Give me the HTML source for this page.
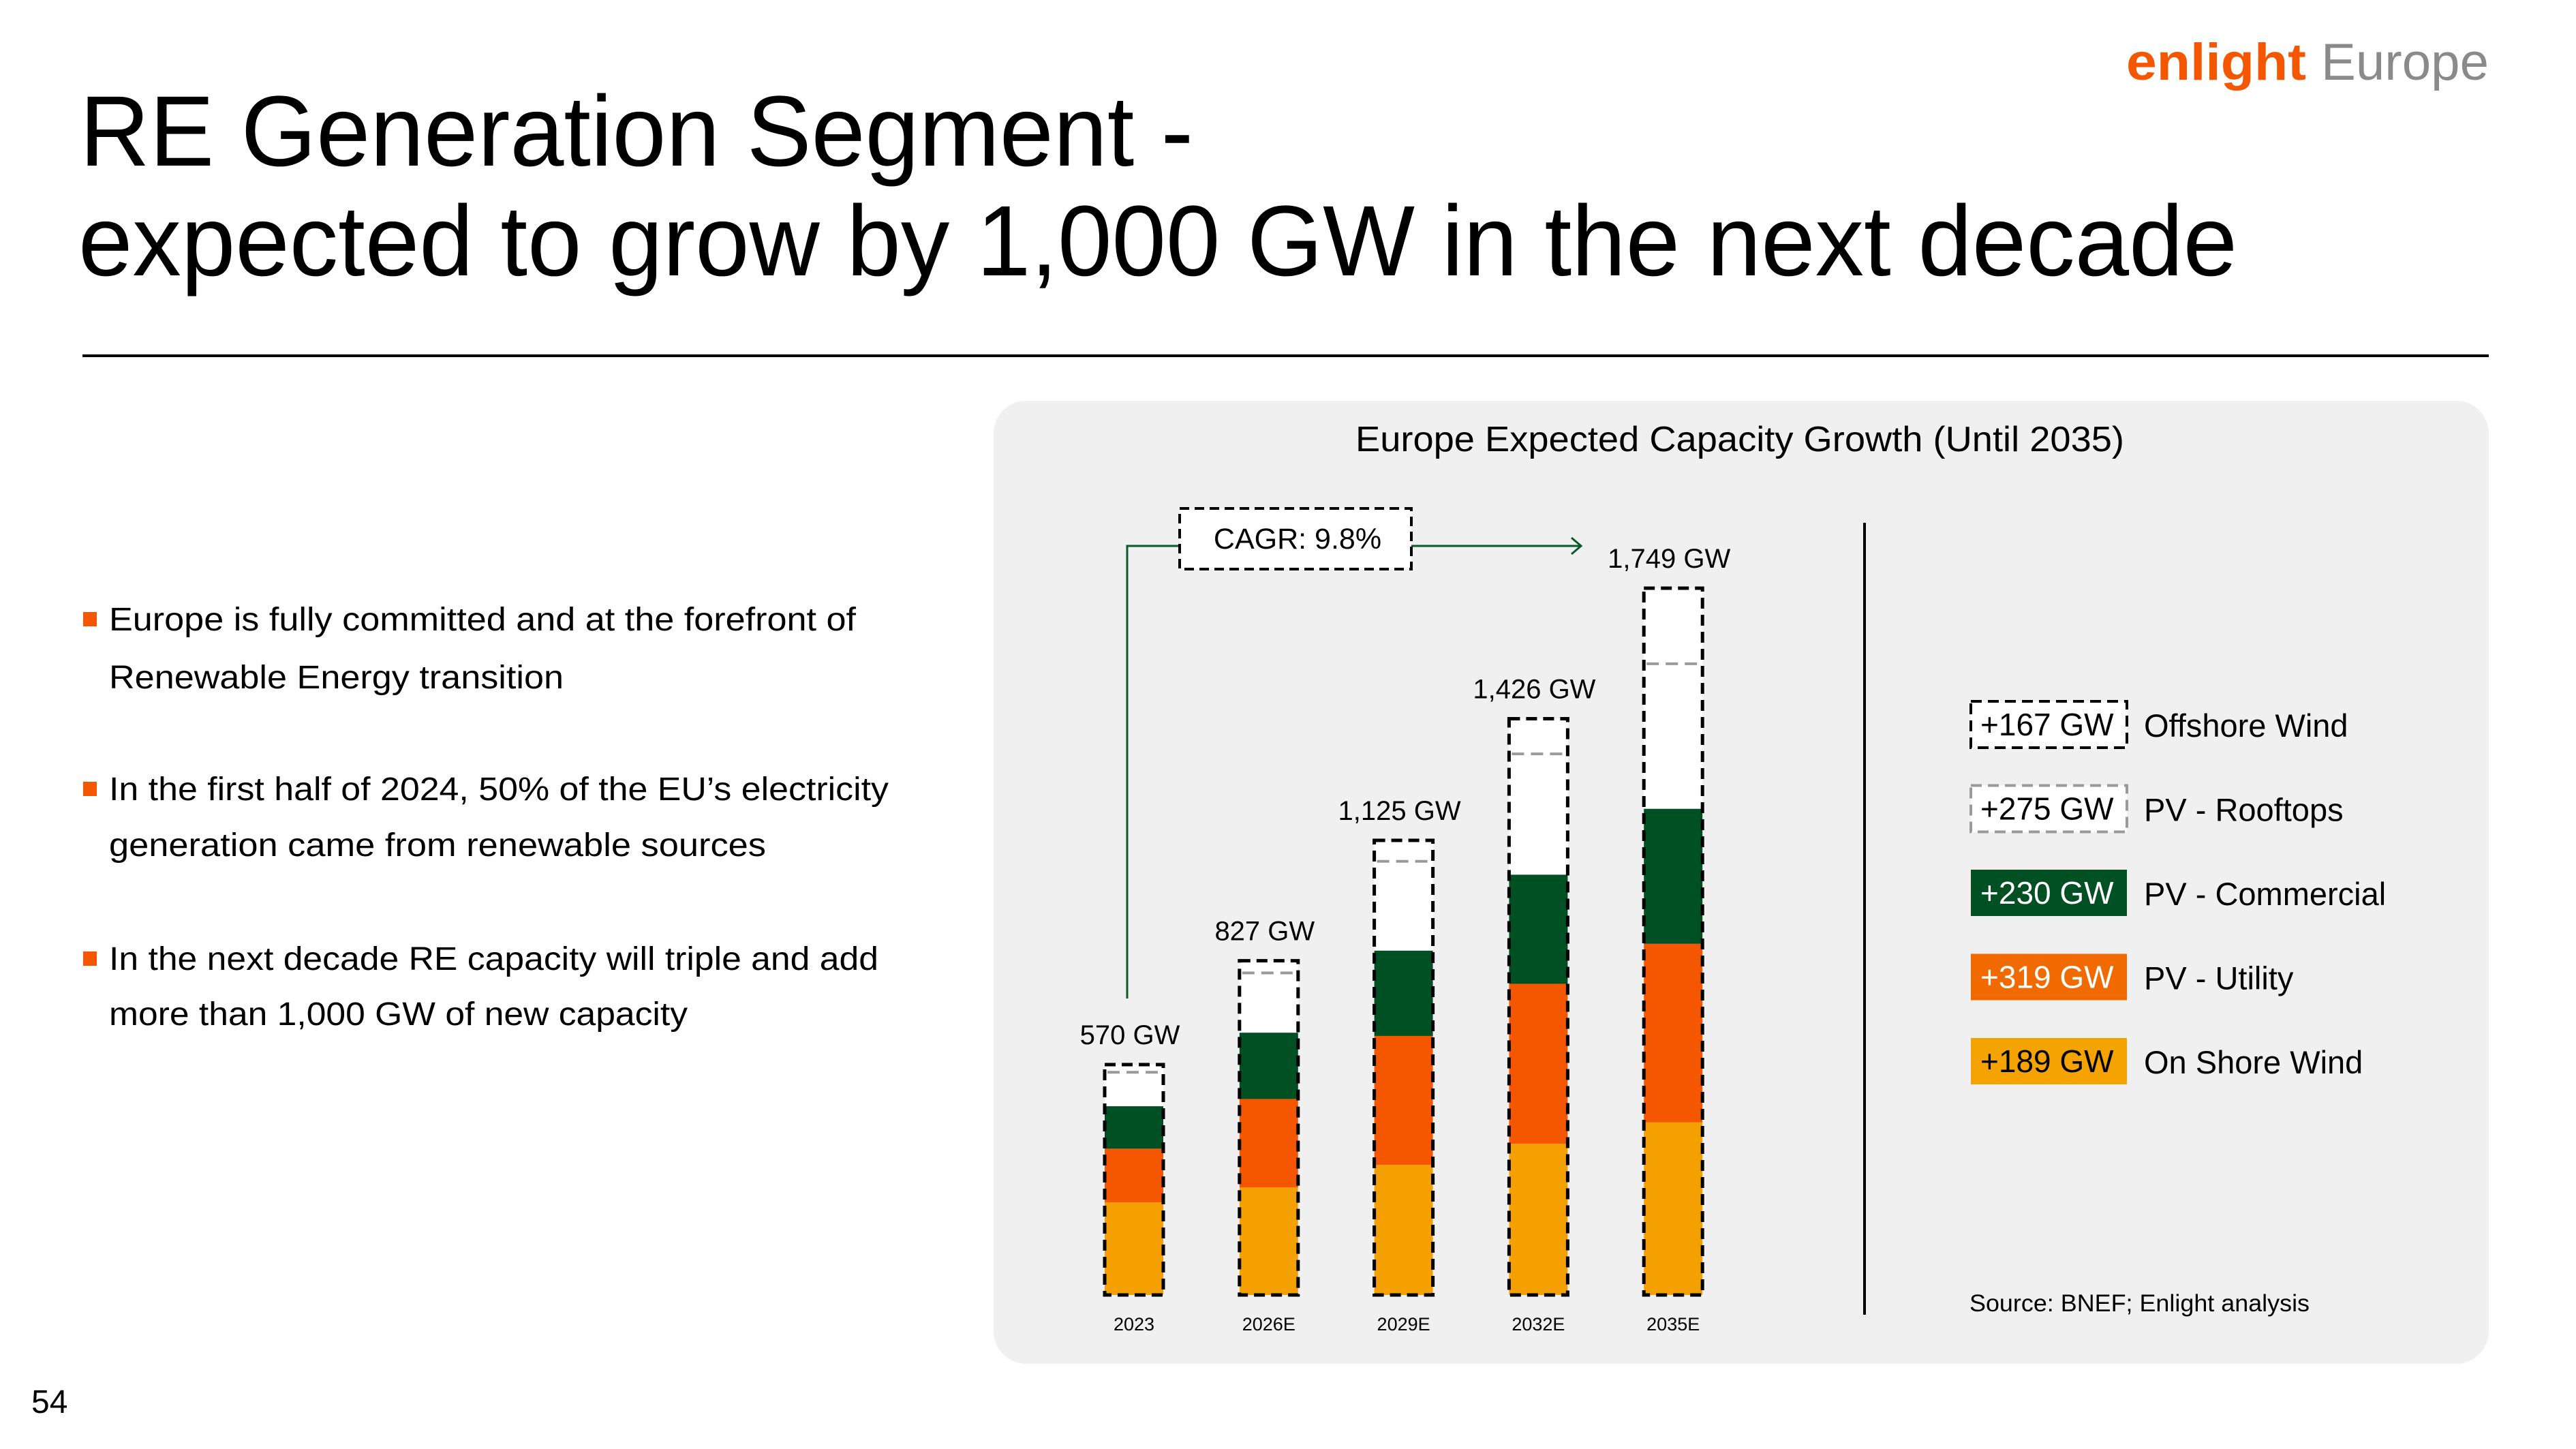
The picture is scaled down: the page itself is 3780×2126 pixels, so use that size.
<!DOCTYPE html>
<html><head><meta charset="utf-8"><style>
html,body{margin:0;padding:0;background:#fff;}
svg{display:block;font-family:"Liberation Sans",sans-serif;}
</style></head><body>
<svg id="slide" width="3780" height="2126" viewBox="0 0 3780 2126" xmlns="http://www.w3.org/2000/svg">
<rect x="0" y="0" width="3780" height="2126" fill="#ffffff"/>
<g>
<text x="3120" y="117" font-size="76" font-weight="bold" fill="#f55600" textLength="264" lengthAdjust="spacingAndGlyphs">enlight</text>
<text x="3406" y="117" font-size="76" fill="#8a8a8a" textLength="246" lengthAdjust="spacingAndGlyphs">Europe</text>
</g>
<text x="117" y="243" font-size="147" fill="#000" textLength="1634" lengthAdjust="spacingAndGlyphs">RE Generation Segment -</text>
<text x="115" y="404" font-size="147" fill="#000" textLength="3168" lengthAdjust="spacingAndGlyphs">expected to grow by 1,000 GW in the next decade</text>
<rect x="121" y="520" width="3531" height="4" fill="#000"/>

<g font-size="48" fill="#000">
<rect x="122" y="898" width="20" height="21" fill="#f55600"/>
<text x="160" y="925" textLength="1096" lengthAdjust="spacingAndGlyphs">Europe is fully committed and at the forefront of</text>
<text x="160" y="1010" textLength="667" lengthAdjust="spacingAndGlyphs">Renewable Energy transition</text>
<rect x="122" y="1147" width="20" height="21" fill="#f55600"/>
<text x="160" y="1174" textLength="1144" lengthAdjust="spacingAndGlyphs">In the first half of 2024, 50% of the EU’s electricity</text>
<text x="160" y="1256" textLength="964" lengthAdjust="spacingAndGlyphs">generation came from renewable sources</text>
<rect x="122" y="1396" width="20" height="21" fill="#f55600"/>
<text x="160" y="1423" textLength="1129" lengthAdjust="spacingAndGlyphs">In the next decade RE capacity will triple and add</text>
<text x="160" y="1504" textLength="849" lengthAdjust="spacingAndGlyphs">more than 1,000 GW of new capacity</text>
</g>
<text x="46" y="2073" font-size="48" fill="#000">54</text>

<rect x="1458" y="588" width="2194" height="1413" rx="48" fill="#f0f0f0"/>
<text x="2553" y="662" font-size="52" text-anchor="middle" fill="#000" textLength="1128" lengthAdjust="spacingAndGlyphs">Europe Expected Capacity Growth (Until 2035)</text>
<rect x="2734" y="767" width="4" height="1162" fill="#000"/>
<g id="bars"></g>
<g id="legend"></g>
<text x="2890" y="1924" font-size="35" fill="#000" textLength="499" lengthAdjust="spacingAndGlyphs">Source: BNEF; Enlight analysis</text>
</svg>
<script>
const categories = ["2023","2026E","2029E","2032E","2035E"];
const onshoreWind = [229,266,322,374,427];
const pvUtility = [133,219,319,396,442];
const pvCommercial = [105,164,211,270,334];
const pvRooftops = [84,148,221,299,359];
const offshoreWind = [19,30,52,87,187];
const totalLabels = ["570 GW","827 GW","1,125 GW","1,426 GW","1,749 GW"];
const cagrLabel = "CAGR: 9.8%";
const legendNames = ["Offshore Wind","PV - Rooftops","PV - Commercial","PV - Utility","On Shore Wind"];
const legendDeltas = ["+167 GW","+275 GW","+230 GW","+319 GW","+189 GW"];

const NS="http://www.w3.org/2000/svg";
const baseY=1900, pxPerGW=1037/1749, x0=1664, step=197.8, bw=86;
const yScale=v=>baseY-v*pxPerGW;
const xCenter=i=>x0+i*step;
function mk(tag,attrs,parent){const e=document.createElementNS(NS,tag);for(const k in attrs)e.setAttribute(k,attrs[k]);parent.appendChild(e);return e;}
const g=document.getElementById('bars');
const colors=["#f4a000","#f55600","#005023"];
categories.forEach((c,i)=>{
  const xl=xCenter(i)-bw/2;
  const series=[onshoreWind[i],pvUtility[i],pvCommercial[i]];
  const total=onshoreWind[i]+pvUtility[i]+pvCommercial[i]+pvRooftops[i]+offshoreWind[i];
  const top=yScale(total);
  const bg=mk('rect',{x:xl,y:top,width:bw,height:baseY-top,fill:'#ffffff'},g);
  
  
  let cum=0;
  const names=['onshore-wind','pv-utility','pv-commercial'];
  series.forEach((v,k)=>{
    const y1=yScale(cum+v), y0=yScale(cum);
    const r=mk('rect',{x:xl,y:y1,width:bw,height:y0-y1,fill:colors[k]},g);
    
    
    cum+=v;
  });
  const ry=yScale(cum+pvRooftops[i]);
  const ln=mk('line',{x1:xl+4,x2:xl+bw-4,y1:ry,y2:ry,stroke:'#9a9a9a','stroke-width':4,'stroke-dasharray':'18 10'},g);
  
  
  const ol=mk('rect',{x:xl,y:top,width:bw,height:baseY-top,fill:'none',stroke:'#000','stroke-width':5,'stroke-dasharray':'16 9'},g);
  
  
  const lt=mk('text',{x:xCenter(i)-6,y:top-30,'font-size':40,'text-anchor':'middle',fill:'#000'},g);
  lt.textContent=totalLabels[i];
  
  
  const yt=mk('text',{x:xCenter(i),y:1952,'font-size':27,'text-anchor':'middle',fill:'#000'},g);
  yt.textContent=c;
  
  
});
// CAGR annotation
const firstTotal=onshoreWind[0]+pvUtility[0]+pvCommercial[0]+pvRooftops[0]+offshoreWind[0];
const ay=801, vx=xCenter(0)-10;
const p=mk('polyline',{points:`${vx},${yScale(firstTotal)-97} ${vx},${ay} 1731,${ay}`,fill:'none',stroke:'#0a5a2a','stroke-width':3},g);


const p2=mk('line',{x1:2071,y1:ay,x2:2320,y2:ay,stroke:'#0a5a2a','stroke-width':3},g);


const ah=mk('polyline',{points:`2306,${ay-12} 2320,${ay} 2306,${ay+12}`,fill:'none',stroke:'#0a5a2a','stroke-width':3},g);


const cb=mk('rect',{x:1731,y:746,width:340,height:89,fill:'#fff',stroke:'#000','stroke-width':4,'stroke-dasharray':'14 8'},g);


const ct=mk('text',{x:1904,y:805,'font-size':43,'text-anchor':'middle',fill:'#000'},g);
ct.textContent=cagrLabel;


// legend
const lg=document.getElementById('legend');
const lfill=['#ffffff','#ffffff','#005023','#f06a00','#f4a300'];
const lstroke=['#000','#9a9a9a','none','none','none'];
const ltext=['#000','#000','#fff','#fff','#000'];
legendNames.forEach((n,i)=>{
  const cy=1063+i*123.5;
  const r=mk('rect',{x:2892,y:cy-34,width:229,height:68,fill:lfill[i],stroke:lstroke[i],'stroke-width':4,'stroke-dasharray':'16 9'},lg);
  
  
  const t=mk('text',{x:2906,y:cy+16,'font-size':46,fill:ltext[i]},lg);
  t.textContent=legendDeltas[i];
  
  
  const t2=mk('text',{x:3146,y:cy+18,'font-size':47,fill:'#000'},lg);
  t2.textContent=n;
  
  
});
</script>
</body></html>
